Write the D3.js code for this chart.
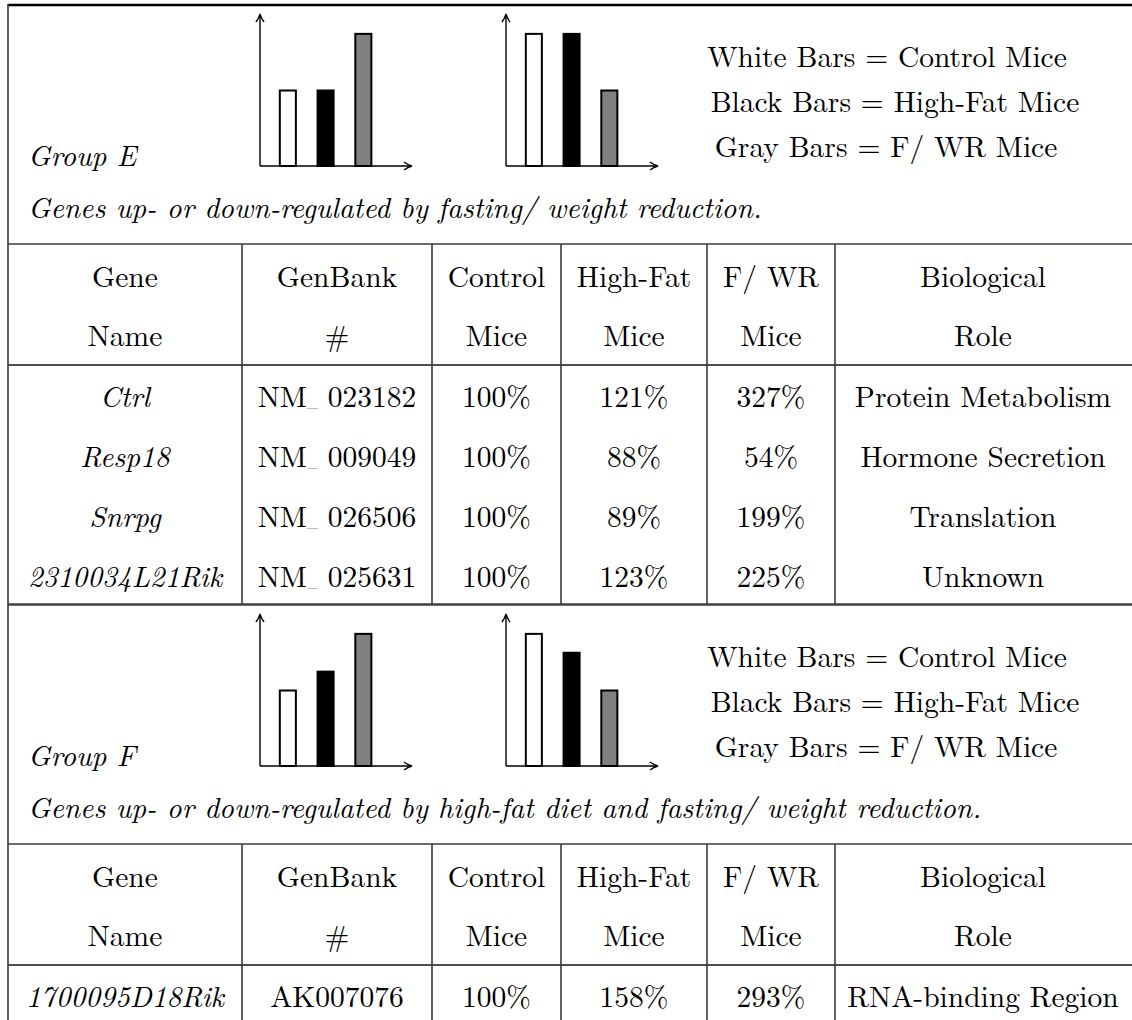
<!DOCTYPE html>
<html lang="en">
<head>
    <meta charset="UTF-8">
    <title>Groups E and F</title>
    <style>
        body {
            margin: 0;
            background: #ffffff;
        }
    </style>
</head>
<body>
    <div class="vis"><svg width="1132" height="1020"></svg></div>
    <script src="https://cdnjs.cloudflare.com/ajax/libs/d3/7.8.5/d3.min.js"></script>
    <script>
        // data
        var groupNames = ["Group E", "Group F"];
        var captions = [
            "Genes up- or down-regulated by fasting/ weight reduction.",
            "Genes up- or down-regulated by high-fat diet and fasting/ weight reduction."
        ];
        var legendLabels = ["White Bars = Control Mice", "Black Bars = High-Fat Mice", "Gray Bars = F/ WR Mice"];
        var mouseGroups = ["Control", "High-Fat", "F/ WR"];
        var barColors = ["#ffffff", "#000000", "#808080"];

        // schematic bar heights (up-regulated chart, down-regulated chart)
        var barsUpE = [4, 4, 7];
        var barsDownE = [7, 7, 4];
        var barsUpF = [4, 5, 7];
        var barsDownF = [7, 6, 4];

        var headerTop = ["Gene", "GenBank", "Control", "High-Fat", "F/ WR", "Biological"];
        var headerBottom = ["Name", "#", "Mice", "Mice", "Mice", "Role"];

        var genesE = ["Ctrl", "Resp18", "Snrpg", "2310034L21Rik"];
        var genbankE = ["NM_ 023182", "NM_ 009049", "NM_ 026506", "NM_ 025631"];
        var controlE = [100, 100, 100, 100];
        var highFatE = [121, 88, 89, 123];
        var fwrE = [327, 54, 199, 225];
        var roleE = ["Protein Metabolism", "Hormone Secretion", "Translation", "Unknown"];

        var genesF = ["1700095D18Rik"];
        var genbankF = ["AK007076"];
        var controlF = [100];
        var highFatF = [158];
        var fwrF = [293];
        var roleF = ["RNA-binding Region"];

        var svg = d3.select('.vis svg');
        var W = 1132;
        var FONT = '"Latin Modern Roman", "CMU Serif", "Liberation Serif", serif';
        var FS = 29.5;
        var FS_IT = 29;

        function styleText(sel) {
            return sel.attr('font-family', FONT)
                .attr('font-size', FS)
                .attr('fill', '#000');
        }

        function italic(sel) {
            return sel.attr('font-style', 'italic').attr('font-size', FS_IT);
        }

        // arrow head for the mini axes
        svg.append('defs').append('marker')
            .attr('id', 'arr')
            .attr('viewBox', '-8 -5 10 10')
            .attr('markerWidth', 10)
            .attr('markerHeight', 10)
            .attr('markerUnits', 'userSpaceOnUse')
            .attr('orient', 'auto')
            .append('path')
            .attr('d', 'M-7,-4 Q-3,-1 1,0 Q-3,1 -7,4')
            .attr('fill', 'none')
            .attr('stroke', '#000')
            .attr('stroke-width', 1.4);

        // column edges of the table
        var colEdges = [8, 242, 432, 561, 707, 835, 1131];
        var colMid = colEdges.slice(0, -1).map((d, i) => (d + colEdges[i + 1]) / 2);

        var unit = d3.scaleLinear().domain([0, 8]).range([0, 151]);
        var pct = d => d + '%';

        var sections = [
            { top: 5, up: barsUpE, down: barsDownE,
              rows: genesE.map((g, i) => [g, genbankE[i], pct(controlE[i]), pct(highFatE[i]), pct(fwrE[i]), roleE[i]]) },
            { top: 605, up: barsUpF, down: barsDownF,
              rows: genesF.map((g, i) => [g, genbankF[i], pct(controlF[i]), pct(highFatF[i]), pct(fwrF[i]), roleF[i]]) }
        ];

        var lineColor = '#3a3a3a';

        function hline(y, w, c) {
            svg.append('line')
                .attr('x1', colEdges[0]).attr('x2', W)
                .attr('y1', y).attr('y2', y)
                .attr('stroke', c || lineColor)
                .attr('stroke-width', w || 1.6);
        }

        function miniChart(x0, y0, vals) {
            var g = svg.append('g').attr('transform', `translate(${x0}, ${y0})`);
            g.append('line')
                .attr('x1', 0).attr('y1', 0).attr('x2', 0).attr('y2', -unit(8))
                .attr('stroke', '#000').attr('stroke-width', 1.4)
                .attr('marker-end', 'url(#arr)');
            g.append('line')
                .attr('x1', 0).attr('y1', 0).attr('x2', unit(8)).attr('y2', 0)
                .attr('stroke', '#000').attr('stroke-width', 1.4)
                .attr('marker-end', 'url(#arr)');
            g.selectAll('rect.bar')
                .data(vals)
                .enter()
                .append('rect')
                .attr('class', 'bar')
                .attr('x', (d, i) => unit(1.05 + 2 * i))
                .attr('y', d => -unit(d))
                .attr('width', unit(0.85))
                .attr('height', d => unit(d))
                .attr('fill', (d, i) => barColors[i])
                .attr('stroke', '#000')
                .attr('stroke-width', 2);
        }

        // write a cell; a TeX-style "\_" is drawn as a short low rule
        function cellText(el, d) {
            var parts = d.split('_');
            el.text(parts[0]);
            if (parts.length > 1) {
                el.append('tspan').attr('font-size', FS * 0.5).text('_');
                el.append('tspan').text(parts[1]);
            }
        }

        sections.forEach(function (s, k) {
            var y0 = s.top;
            if (k === 0) {
                hline(y0, 2.6, '#000');
            } else {
                hline(y0);
            }

            // mini bar charts
            miniChart(260, y0 + 161, s.up);
            miniChart(506, y0 + 161, s.down);

            // legend
            svg.selectAll('text.legend' + k)
                .data(legendLabels)
                .enter()
                .append('text')
                .attr('class', 'legend' + k)
                .attr('x', (d, i) => [887, 895, 886][i])
                .attr('y', (d, i) => y0 + 62 + 45 * i)
                .attr('text-anchor', 'middle')
                .call(styleText)
                .text(d => d);

            svg.append('text')
                .attr('x', 28).attr('y', y0 + 161)
                .call(styleText)
                .call(italic)
                .text(groupNames[k]);

            svg.append('text')
                .attr('x', 28).attr('y', y0 + 213)
                .call(styleText)
                .call(italic)
                .text(captions[k]);

            // header
            var hy = y0 + 239;
            hline(hy);
            svg.selectAll('text.h1_' + k)
                .data(headerTop)
                .enter()
                .append('text')
                .attr('class', 'h1_' + k)
                .attr('x', (d, i) => colMid[i])
                .attr('y', hy + 43)
                .attr('text-anchor', 'middle')
                .call(styleText)
                .text(d => d);
            svg.selectAll('text.h2_' + k)
                .data(headerBottom)
                .enter()
                .append('text')
                .attr('class', 'h2_' + k)
                .attr('x', (d, i) => colMid[i])
                .attr('y', hy + 102)
                .attr('text-anchor', 'middle')
                .call(styleText)
                .text(d => d);

            var by = hy + 121;
            hline(by, 1.6, '#111');

            var rowY = d3.scaleLinear().domain([0, 1]).range([by + 42, by + 102]);
            var rows = svg.selectAll('g.row' + k)
                .data(s.rows)
                .enter()
                .append('g')
                .attr('class', 'row' + k)
                .attr('transform', (d, i) => `translate(0, ${rowY(i)})`);
            rows.selectAll('text')
                .data(d => d)
                .enter()
                .append('text')
                .attr('x', (d, i) => colMid[i])
                .attr('text-anchor', 'middle')
                .call(styleText)
                .each(function (d, i) {
                    var el = d3.select(this);
                    if (i === 0) italic(el);
                    cellText(el, d);
                });

            var endY = k === 0 ? by + 239 : 1020;
            if (k === 0) hline(endY);

            // vertical rules
            svg.selectAll('line.v' + k)
                .data(colEdges.slice(1, -1))
                .enter()
                .append('line')
                .attr('class', 'v' + k)
                .attr('x1', d => d).attr('x2', d => d)
                .attr('y1', hy).attr('y2', endY)
                .attr('stroke', lineColor)
                .attr('stroke-width', 1.6);
        });

        // left border
        svg.append('line')
            .attr('x1', colEdges[0]).attr('x2', colEdges[0])
            .attr('y1', 4).attr('y2', 1020)
            .attr('stroke', lineColor)
            .attr('stroke-width', 1.6);
    </script>
</body>
</html>
